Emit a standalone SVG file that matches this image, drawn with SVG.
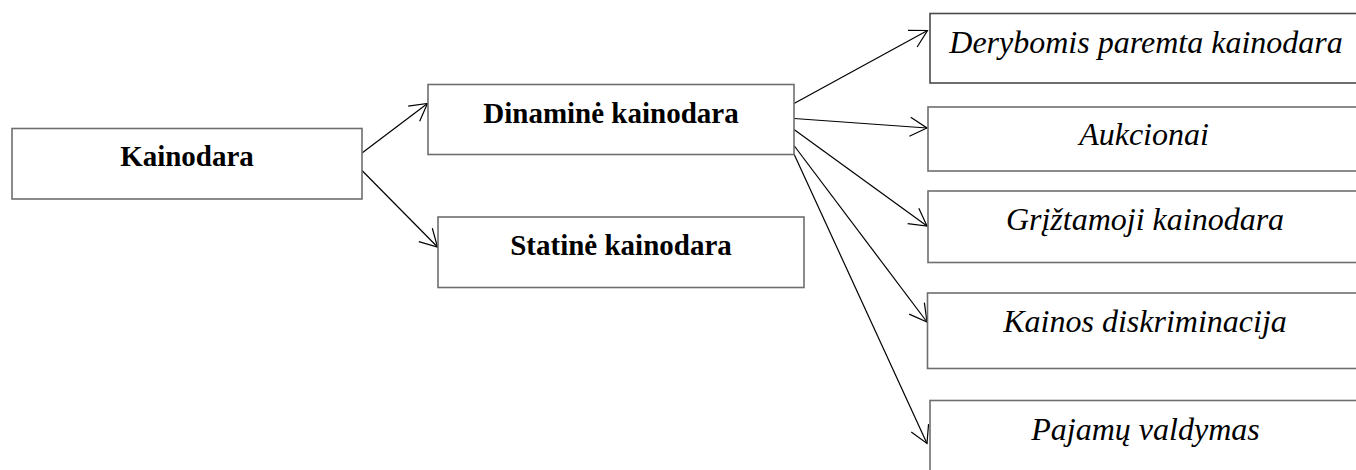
<svg xmlns="http://www.w3.org/2000/svg" width="1356" height="470" viewBox="0 0 1356 470">
  <style>
    .box { fill: #ffffff; stroke: #6e6e6e; stroke-width: 1.6; }
    .bold { font-family: 'Liberation Serif', 'Times New Roman', Times, 'DejaVu Serif', serif; font-weight: bold; font-size: 29px; fill: #000; text-anchor: middle; }
    .ital { font-family: 'Liberation Serif', 'Times New Roman', Times, 'DejaVu Serif', serif; font-style: italic; font-size: 32px; fill: #000; text-anchor: middle; }
    .conn { fill: none; stroke: #000; stroke-width: 1.2; marker-end: url(#arrow); }
  </style>
  <defs>
    <marker id="arrow" markerUnits="userSpaceOnUse" markerWidth="22" markerHeight="22" viewBox="-20 -11 22 22" refX="0" refY="0" orient="auto" overflow="visible">
      <path d="M-17,-9.5 L0,0 L-17,9.5" fill="none" stroke="#000" stroke-width="1.2"/>
    </marker>
  </defs>
  <rect width="1356" height="470" fill="#ffffff"/>

  <g id="connectors">
    <line class="conn" x1="362" y1="153" x2="427.5" y2="103.5"/>
    <line class="conn" x1="362" y1="170.5" x2="437.5" y2="247"/>
    <line class="conn" x1="794" y1="103.5" x2="927.5" y2="30.5"/>
    <line class="conn" x1="794" y1="118.5" x2="927" y2="128"/>
    <line class="conn" x1="794" y1="129.5" x2="927" y2="226"/>
    <line class="conn" x1="794" y1="145.5" x2="927" y2="322"/>
    <line class="conn" x1="794" y1="154" x2="927" y2="443.5"/>
  </g>

  <g id="kainodara">
    <rect class="box" x="12" y="128.5" width="350" height="70.5"/>
    <text class="bold" x="187" y="166" font-family="Liberation Serif, serif">Kainodara</text>
  </g>
  <g id="dinamine">
    <rect class="box" x="428" y="84.5" width="366" height="70"/>
    <text class="bold" x="611" y="122.5" font-family="Liberation Serif, serif">Dinaminė kainodara</text>
  </g>
  <g id="statine">
    <rect class="box" x="438" y="217" width="366" height="70.5"/>
    <text class="bold" x="621" y="254.5" font-family="Liberation Serif, serif">Statinė kainodara</text>
  </g>
  <g id="derybomis">
    <rect class="box" x="930" y="13.5" width="440" height="69.5" style="stroke:#4a4a4a"/>
    <text class="ital" x="1146" y="52.5" font-family="Liberation Serif, serif">Derybomis paremta kainodara</text>
  </g>
  <g id="aukcionai">
    <rect class="box" x="928" y="107" width="440" height="64"/>
    <text class="ital" x="1144" y="145" font-family="Liberation Serif, serif">Aukcionai</text>
  </g>
  <g id="griztamoji">
    <rect class="box" x="928" y="191" width="440" height="71.5"/>
    <text class="ital" x="1145" y="230" font-family="Liberation Serif, serif">Grįžtamoji kainodara</text>
  </g>
  <g id="kainos">
    <rect class="box" x="927.5" y="293" width="440" height="75.5"/>
    <text class="ital" x="1145" y="331.5" font-family="Liberation Serif, serif">Kainos diskriminacija</text>
  </g>
  <g id="pajamu">
    <rect class="box" x="930" y="400.5" width="440" height="90"/>
    <text class="ital" x="1145.5" y="439.5" font-family="Liberation Serif, serif">Pajamų valdymas</text>
  </g>
</svg>
